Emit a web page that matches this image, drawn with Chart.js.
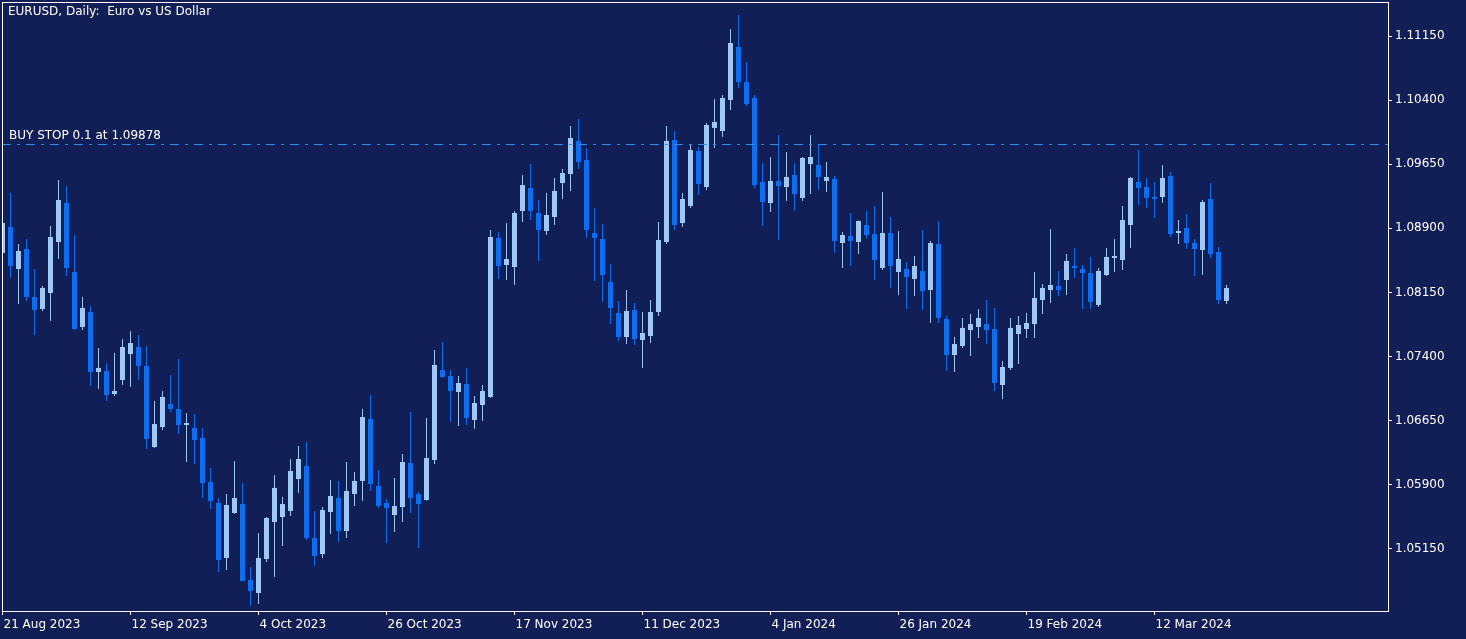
<!DOCTYPE html>
<html>
<head>
<meta charset="utf-8">
<title>EURUSD, Daily</title>
<script src="https://cdn.jsdelivr.net/npm/chart.js@4.4.1/dist/chart.umd.min.js"></script>
<style>
    html, body { margin: 0; padding: 0; background: #121f56; overflow: hidden; }
    #wrap { width: 1466px; height: 639px; position: relative; }
</style>
</head>
<body>
<div id="wrap"><canvas id="price-chart"></canvas></div>
<script>
// Daily bars, 21 Aug 2023 .. 25 Mar 2024 (bar index = trading day)
const opens = [
    1.08611, 1.08915, 1.08424, 1.08658, 1.08096, 1.07956, 1.08143, 1.08740, 1.09196, 1.08389,
    1.07745, 1.07921, 1.07219, 1.07231, 1.06961, 1.07125, 1.07429, 1.07511, 1.07289, 1.06341,
    1.06575, 1.06844, 1.06786, 1.06599, 1.06564, 1.06447, 1.05932, 1.05686, 1.05043, 1.05569,
    1.05674, 1.04785, 1.04633, 1.05031, 1.05464, 1.05522, 1.05593, 1.05967, 1.06119, 1.05277,
    1.05089, 1.05581, 1.05745, 1.05359, 1.05791, 1.05944, 1.06669, 1.05885, 1.05686, 1.05546,
    1.05639, 1.06154, 1.05791, 1.05721, 1.06189, 1.07242, 1.07172, 1.06985, 1.07078, 1.06657,
    1.06833, 1.06926, 1.08787, 1.08471, 1.08447, 1.09103, 1.09372, 1.09079, 1.08869, 1.09032,
    1.09430, 1.09535, 1.09922, 1.09699, 1.08845, 1.08775, 1.08272, 1.07909, 1.07628, 1.07944,
    1.07593, 1.07640, 1.07921, 1.08740, 1.09933, 1.08962, 1.09161, 1.09805, 1.09383, 1.10074,
    1.10039, 1.10401, 1.11021, 1.10612, 1.10425, 1.09442, 1.09196, 1.09454, 1.09383, 1.09524,
    1.09255, 1.09652, 1.09641, 1.09454, 1.09477, 1.08728, 1.08810, 1.08740, 1.08939, 1.08833,
    1.08436, 1.08845, 1.08389, 1.08424, 1.08307, 1.08401, 1.08178, 1.08716, 1.07839, 1.07418,
    1.07523, 1.07710, 1.07745, 1.07780, 1.07722, 1.07067, 1.07266, 1.07663, 1.07722, 1.07780,
    1.08061, 1.08178, 1.08225, 1.08295, 1.08459, 1.08424, 1.08377, 1.08003, 1.08354, 1.08553,
    1.08529, 1.08939, 1.09442, 1.09383, 1.09266, 1.09266, 1.09512, 1.08845, 1.08904, 1.08728,
    1.08646, 1.09243, 1.08623, 1.08050
];
const highs = [
    1.09021, 1.09313, 1.08716, 1.08775, 1.08424, 1.08225, 1.08927, 1.09465, 1.09395, 1.08822,
    1.08096, 1.07991, 1.07500, 1.07324, 1.07441, 1.07605, 1.07699, 1.07652, 1.07523, 1.06880,
    1.06997, 1.07184, 1.07371, 1.06739, 1.06727, 1.06564, 1.06096, 1.05745, 1.05791, 1.06178,
    1.05920, 1.04937, 1.05335, 1.05522, 1.06014, 1.05756, 1.06201, 1.06353, 1.06400, 1.05593,
    1.05639, 1.05955, 1.05944, 1.06166, 1.06049, 1.06786, 1.06950, 1.06072, 1.05733, 1.05979,
    1.06259, 1.06751, 1.05815, 1.06681, 1.07476, 1.07570, 1.07242, 1.07172, 1.07266, 1.06938,
    1.07067, 1.08880, 1.08857, 1.08962, 1.09103, 1.09524, 1.09652, 1.09231, 1.09313, 1.09489,
    1.09594, 1.10097, 1.10179, 1.09840, 1.09138, 1.08950, 1.08482, 1.08050, 1.08178, 1.08026,
    1.07921, 1.08061, 1.08974, 1.10097, 1.10039, 1.09313, 1.09875, 1.09851, 1.10132, 1.10413,
    1.10460, 1.11232, 1.11396, 1.10846, 1.10460, 1.09664, 1.09734, 1.09992, 1.09793, 1.09664,
    1.09734, 1.09992, 1.09886, 1.09676, 1.09512, 1.08857, 1.09079, 1.08990, 1.09103, 1.09161,
    1.09325, 1.09032, 1.08869, 1.08506, 1.08576, 1.08880, 1.08752, 1.08986, 1.07874, 1.07628,
    1.07851, 1.07897, 1.07956, 1.08061, 1.07968, 1.07348, 1.07851, 1.07874, 1.07909, 1.08389,
    1.08248, 1.08892, 1.08401, 1.08599, 1.08670, 1.08471, 1.08564, 1.08436, 1.08670, 1.08775,
    1.09161, 1.09500, 1.09816, 1.09489, 1.09442, 1.09641, 1.09559, 1.08997, 1.09067, 1.08775,
    1.09231, 1.09430, 1.08681, 1.08237
];
const lows = [
    1.08506, 1.08319, 1.08014, 1.08050, 1.07652, 1.07933, 1.07816, 1.08541, 1.08342, 1.07710,
    1.07710, 1.07055, 1.07020, 1.06880, 1.06938, 1.07067, 1.07043, 1.07125, 1.06318, 1.06330,
    1.06540, 1.06751, 1.06493, 1.06166, 1.06142, 1.05745, 1.05616, 1.04879, 1.04902, 1.05560,
    1.04770, 1.04481, 1.04504, 1.04996, 1.04820, 1.05183, 1.05534, 1.05803, 1.05253, 1.04949,
    1.05043, 1.05323, 1.05230, 1.05277, 1.05651, 1.05710, 1.05827, 1.05628, 1.05218, 1.05347,
    1.05464, 1.05569, 1.05160, 1.05715, 1.06142, 1.07155, 1.06634, 1.06587, 1.06599, 1.06552,
    1.06646, 1.06915, 1.08307, 1.08295, 1.08237, 1.08974, 1.08997, 1.08518, 1.08822, 1.08939,
    1.09243, 1.09337, 1.09594, 1.08787, 1.08284, 1.08038, 1.07780, 1.07582, 1.07546, 1.07535,
    1.07266, 1.07558, 1.07874, 1.08716, 1.08880, 1.08915, 1.09138, 1.09290, 1.09348, 1.09840,
    1.09968, 1.10284, 1.10542, 1.10331, 1.09372, 1.08927, 1.09091, 1.08763, 1.09220, 1.09103,
    1.09220, 1.09301, 1.09348, 1.09325, 1.08611, 1.08436, 1.08459, 1.08599, 1.08787, 1.08295,
    1.08412, 1.08202, 1.08120, 1.07956, 1.08108, 1.07944, 1.07792, 1.07792, 1.07231, 1.07219,
    1.07500, 1.07406, 1.07617, 1.07546, 1.06997, 1.06903, 1.07242, 1.07312, 1.07617, 1.07617,
    1.07897, 1.08026, 1.08108, 1.08120, 1.08319, 1.07956, 1.07956, 1.07979, 1.08342, 1.08389,
    1.08412, 1.08670, 1.09173, 1.09138, 1.09021, 1.09196, 1.08798, 1.08716, 1.08658, 1.08342,
    1.08354, 1.08553, 1.08014, 1.08014
];
const closes = [
    1.08962, 1.08459, 1.08635, 1.08096, 1.07944, 1.08202, 1.08798, 1.09231, 1.08436, 1.07722,
    1.07968, 1.07219, 1.07266, 1.06950, 1.06997, 1.07511, 1.07558, 1.07289, 1.06435, 1.06610,
    1.06926, 1.06786, 1.06599, 1.06622, 1.06423, 1.05920, 1.05710, 1.05019, 1.05663, 1.05745,
    1.04774, 1.04657, 1.05043, 1.05511, 1.05862, 1.05674, 1.06061, 1.06201, 1.05277, 1.05066,
    1.05604, 1.05768, 1.05359, 1.05827, 1.05944, 1.06692, 1.05908, 1.05651, 1.05628, 1.05651,
    1.06166, 1.05745, 1.05674, 1.06213, 1.07301, 1.07160, 1.06997, 1.07090, 1.06681, 1.06856,
    1.06997, 1.08798, 1.08459, 1.08541, 1.09079, 1.09407, 1.09103, 1.08880, 1.09056, 1.09337,
    1.09547, 1.09957, 1.09676, 1.08880, 1.08787, 1.08354, 1.07968, 1.07628, 1.07933, 1.07605,
    1.07675, 1.07921, 1.08763, 1.09922, 1.08939, 1.09243, 1.09816, 1.09418, 1.10109, 1.10144,
    1.10425, 1.11068, 1.10612, 1.10354, 1.09407, 1.09208, 1.09454, 1.09395, 1.09500, 1.09301,
    1.09723, 1.09734, 1.09500, 1.09500, 1.08752, 1.08822, 1.08752, 1.08986, 1.08822, 1.08529,
    1.08845, 1.08459, 1.08541, 1.08330, 1.08459, 1.08167, 1.08728, 1.07851, 1.07418, 1.07546,
    1.07734, 1.07780, 1.07851, 1.07710, 1.07090, 1.07277, 1.07734, 1.07769, 1.07792, 1.08085,
    1.08202, 1.08237, 1.08178, 1.08518, 1.08436, 1.08377, 1.08038, 1.08401, 1.08564, 1.08576,
    1.08997, 1.09489, 1.09372, 1.09255, 1.09243, 1.09489, 1.08833, 1.08869, 1.08728, 1.08658,
    1.09208, 1.08599, 1.08061, 1.08202
];

// time axis labels and the bar each one sits on
const tickLabels = ['21 Aug 2023', '12 Sep 2023', '4 Oct 2023', '26 Oct 2023', '17 Nov 2023',
                    '11 Dec 2023', '4 Jan 2024', '26 Jan 2024', '19 Feb 2024', '12 Mar 2024'];
const tickBars = [0, 16, 32, 48, 64, 80, 96, 112, 128, 144];

// price axis labels
const priceTicks = [1.05150, 1.05900, 1.06650, 1.07400, 1.08150, 1.08900, 1.09650, 1.10400, 1.11150];

const chartTitle = 'EURUSD, Daily:  Euro vs US Dollar';
const orderPrice = 1.09878;
const orderText = 'BUY STOP 0.1 at 1.09878';

const BG = '#121f56';
const BULL = '#9ec9f6';
const BEAR = '#0d6ff0';
const ORDER_COLOR = '#2a8cf5';
const FONT = '12px "DejaVu Sans"';

const bodies = opens.map((o, i) => ({ x: i, y: [o, closes[i]] }));
const wicks = lows.map((l, i) => ({ x: i, y: [l, highs[i]] }));
const barColors = opens.map((o, i) => closes[i] >= o ? BULL : BEAR);

const decor = {
    id: 'decor',
    beforeDraw(chart) {
        const ctx = chart.ctx;
        ctx.save();
        ctx.fillStyle = BG;
        ctx.fillRect(0, 0, chart.width, chart.height);
        ctx.restore();
    },
    afterDatasetsDraw(chart) {
        const { ctx, chartArea, scales } = chart;
        const y = Math.floor(scales.y.getPixelForValue(orderPrice)) + 0.5;
        ctx.save();
        // pending order line
        ctx.strokeStyle = ORDER_COLOR;
        ctx.lineWidth = 1;
        ctx.setLineDash([9, 6, 3, 6]);
        ctx.beginPath();
        ctx.moveTo(chartArea.left, y);
        ctx.lineTo(chartArea.right, y);
        ctx.stroke();
        ctx.setLineDash([]);

        ctx.fillStyle = '#ffffff';
        ctx.font = FONT;
        ctx.textBaseline = 'middle';
        ctx.textAlign = 'left';
        ctx.fillText(orderText, 9, y - 9);
        ctx.fillText(chartTitle, 8, 12);

        // frame round the plot
        ctx.strokeStyle = '#ffffff';
        ctx.strokeRect(chartArea.left + 0.5, chartArea.top + 0.5,
            chartArea.right - chartArea.left, chartArea.bottom - chartArea.top);
        ctx.restore();
    }
};

const ctx = document.getElementById('price-chart').getContext('2d');
new Chart(ctx, {
    type: 'bar',
    data: {
        datasets: [
            {
                label: 'body',
                data: bodies,
                backgroundColor: barColors,
                borderWidth: 0,
                grouped: false,
                categoryPercentage: 1,
                barPercentage: 1,
                maxBarThickness: 5,
                minBarLength: 1,
                inflateAmount: 0
            },
            {
                label: 'wick',
                data: wicks,
                backgroundColor: barColors,
                borderWidth: 0,
                grouped: false,
                categoryPercentage: 1,
                barPercentage: 1,
                maxBarThickness: 1,
                inflateAmount: 0
            }
        ]
    },
    options: {
        responsive: true,
        maintainAspectRatio: false,
        animation: false,
        layout: { padding: { left: 2, top: 2, right: 0, bottom: 0 } },
        plugins: {
            legend: { display: false },
            tooltip: { enabled: false },
            title: { display: false }
        },
        scales: {
            x: {
                type: 'linear',
                offset: false,
                min: -0.0625,
                max: 173.1875,
                afterBuildTicks: scale => { scale.ticks = tickBars.map(v => ({ value: v })); },
                afterFit: scale => {
                    scale.height = 28;
                    scale.paddingLeft = 0;
                    scale.paddingRight = 0;
                },
                grid: { display: true, offset: false, drawOnChartArea: false, drawTicks: true, tickLength: 4, color: '#ffffff' },
                border: { display: false },
                ticks: {
                    color: '#ffffff',
                    font: { family: 'DejaVu Sans', size: 12 },
                    align: 'start',
                    labelOffset: 1,
                    padding: 3,
                    autoSkip: false,
                    maxRotation: 0,
                    callback: (value, index) => tickLabels[index]
                }
            },
            y: {
                type: 'linear',
                position: 'right',
                min: 1.044225,
                max: 1.115478,
                afterBuildTicks: scale => { scale.ticks = priceTicks.map(v => ({ value: v })); },
                afterFit: scale => {
                    scale.width = 78;
                    scale.paddingTop = 0;
                    scale.paddingBottom = 0;
                },
                grid: { display: true, drawOnChartArea: false, drawTicks: true, tickLength: 4, color: '#ffffff' },
                border: { display: false },
                ticks: {
                    color: '#ffffff',
                    font: { family: 'DejaVu Sans', size: 12 },
                    padding: 3,
                    autoSkip: false,
                    callback: value => value.toFixed(5)
                }
            }
        }
    },
    plugins: [decor]
});
</script>
</body>
</html>
